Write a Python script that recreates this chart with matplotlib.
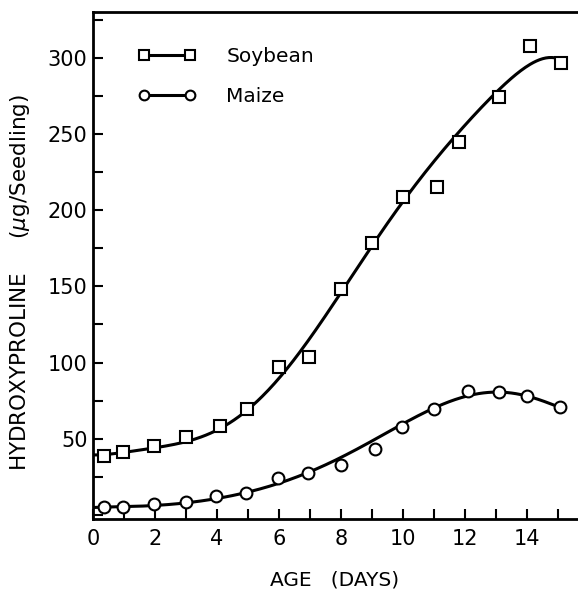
import numpy as np
import matplotlib
matplotlib.use("Agg")
import matplotlib.pyplot as plt
from matplotlib.lines import Line2D
from matplotlib.ticker import MultipleLocator

soy_days = [0.35, 0.96, 1.97, 3.0, 4.08, 4.95, 5.98, 6.95, 8.0, 9.0, 10.0, 11.1, 11.8, 13.1, 14.1, 15.1]
soy_hyp = [38.7, 41.3, 45, 51, 58.4, 69.6, 97, 104, 148, 178.5, 208.7, 215, 245, 274, 308, 296.6]

maize_days = [0.35, 0.96, 1.96, 3.0, 3.98, 4.93, 5.96, 6.92, 8.0, 9.1, 9.97, 11.0, 12.1, 13.1, 14.0, 15.05]
maize_hyp = [5.2, 5.5, 7, 8.7, 12.5, 14.7, 24, 27.6, 32.8, 43.3, 57.5, 69.5, 81.4, 80.9, 78, 71]

# hand-drawn smooth curves, read at whole days
curve_days = [0, 1, 2, 3, 4, 5, 6, 7, 8, 9, 10, 11, 12, 13, 14, 15]
soy_curve = [39.5, 41, 44, 48.5, 56, 69, 89, 117, 147, 176, 206, 232, 256, 278, 294, 299.5]
maize_curve = [5, 5.3, 6.5, 8, 11, 14.5, 21.5, 28, 38.5, 48.5, 59.5, 70.5, 78, 80.5, 78, 71]

fig = plt.figure(figsize=(5.78, 5.91), dpi=100)
ax = fig.add_axes([93/578, 1-519/591, (577-93)/578, (519-12)/591])

font = "DejaVu Sans"
lw = 2.2

for ycurve, xend in [(soy_curve, 15.1), (maize_curve, 15.05)]:
    p = np.polynomial.Polynomial.fit(curve_days, ycurve, 7)
    xs = np.linspace(0, xend, 300)
    ax.plot(xs, p(xs), color="black", lw=lw, zorder=2)

ax.plot(soy_days, soy_hyp, ls="none", marker="s", ms=8, mfc="white",
        mec="black", mew=1.5, zorder=3)
ax.plot(maize_days, maize_hyp, ls="none", marker="o", ms=8.5, mfc="white",
        mec="black", mew=1.5, zorder=3)

ax.set_xlim(0, 15.6)
ax.set_ylim(-2.6, 330)

ax.xaxis.set_major_locator(MultipleLocator(2))
ax.xaxis.set_minor_locator(MultipleLocator(1))
ax.set_yticks([50, 100, 150, 200, 250, 300])
ax.yaxis.set_minor_locator(MultipleLocator(25))

ax.tick_params(which="both", direction="in", width=1.5, labelsize=15,
               top=False, right=False, length=7)
ax.tick_params(axis="x", pad=7)
ax.tick_params(axis="y", pad=4)
for lab in ax.get_xticklabels() + ax.get_yticklabels():
    lab.set_family(font)

ax.spines["right"].set_visible(False)
for s in ["left", "bottom", "top"]:
    ax.spines[s].set_linewidth(2)

handles = [
    Line2D([], [], color="black", lw=lw, marker="s", ms=7, mfc="white", mec="black", mew=1.5),
    Line2D([], [], color="black", lw=lw, marker="o", ms=7, mfc="white", mec="black", mew=1.5),
]
leg = ax.legend(handles, ["Soybean", "Maize"], loc="upper left",
                bbox_to_anchor=(0.055, 0.967), frameon=False, numpoints=2,
                handlelength=2.9, handletextpad=1.5, labelspacing=1.05,
                prop=dict(family=font, size=14.5))

fig.text(335/578, 1-580/591, "AGE   (DAYS)", ha="center", va="center",
         fontsize=14.5, family=font)
fig.text(20/578, 1-282/591, "HYDROXYPROLINE     ($\\mu$g/Seedling)",
         ha="center", va="center", rotation=90, fontsize=15.5, family=font)

fig.savefig("out.png", dpi=100)
